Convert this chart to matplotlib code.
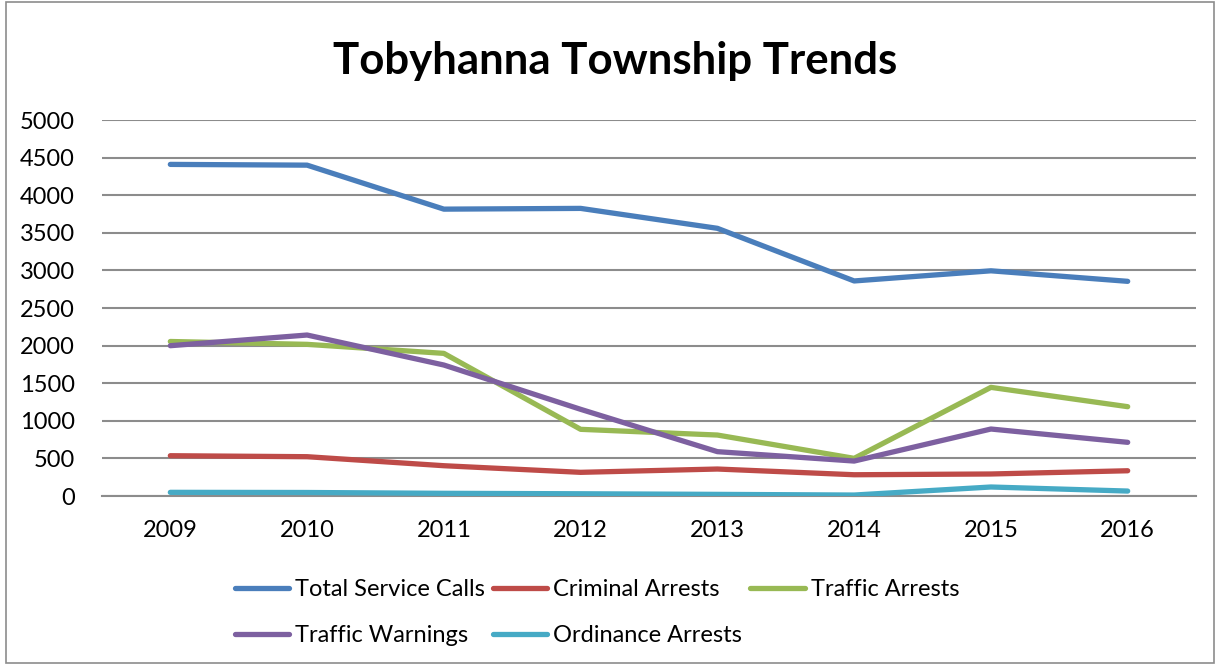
import matplotlib
matplotlib.use("Agg")
import matplotlib.pyplot as plt
from matplotlib.patches import Rectangle

years = ["2009", "2010", "2011", "2012", "2013", "2014", "2015", "2016"]
total_service_calls = [4410, 4400, 3815, 3825, 3560, 2860, 2995, 2855]
criminal_arrests = [536, 523, 403, 315, 359, 283, 293, 336]
traffic_arrests = [2055, 2017, 1897, 887, 811, 501, 1445, 1188]
traffic_warnings = [1999, 2141, 1742, 1153, 590, 465, 891, 714]
ordinance_arrests = [49, 47, 36, 30, 22, 13, 120, 66]
y_ticks = [0, 500, 1000, 1500, 2000, 2500, 3000, 3500, 4000, 4500, 5000]

plt.rcParams['font.family'] = ['Lato', 'DejaVu Sans']

fig = plt.figure(figsize=(12.18, 6.65), dpi=100)
ax = fig.add_axes([0.0837, 0.2541, 0.8983, 0.5654])

series = [
    ("Total Service Calls", total_service_calls, "#4A7EBB"),
    ("Criminal Arrests", criminal_arrests, "#BE4B48"),
    ("Traffic Arrests", traffic_arrests, "#98B954"),
    ("Traffic Warnings", traffic_warnings, "#7D60A0"),
    ("Ordinance Arrests", ordinance_arrests, "#46AAC5"),
]
x = list(range(len(years)))
handles = {}
for name, vals, col in series:
    h, = ax.plot(x, vals, color=col, lw=3.8, solid_capstyle='round',
                 solid_joinstyle='round', label=name, zorder=3)
    handles[name] = h

ax.set_xlim(-0.5, len(years) - 0.5)
ax.set_ylim(0, 5000)
ax.set_yticks(y_ticks)
ax.set_xticks(x)
ax.set_xticklabels(years)
ax.grid(axis='y', color='#8c8c8c', lw=1.5, zorder=1)
ax.set_axisbelow(True)
for s in ['top', 'right', 'left']:
    ax.spines[s].set_visible(False)
ax.spines['bottom'].set_color('#8c8c8c')
ax.spines['bottom'].set_linewidth(1.5)
ax.tick_params(axis='both', length=0, labelsize=17, colors='black')
ax.tick_params(axis='y', pad=19.5)
ax.tick_params(axis='x', pad=17)

fig.text(0.505, 0.908, "Tobyhanna Township Trends", ha='center', va='center',
         fontsize=31.5, fontweight='bold')

order = ["Total Service Calls", "Traffic Warnings", "Criminal Arrests",
         "Ordinance Arrests", "Traffic Arrests"]
leg = fig.legend([handles[n] for n in order], order, ncol=3, loc='center',
                 bbox_to_anchor=(0.49, 0.079), frameon=False, fontsize=17,
                 handlelength=2.3, handletextpad=0.25, columnspacing=0.35,
                 labelspacing=1.05)

fig.patches.append(Rectangle((0.005, 0.003), 0.992, 0.994, transform=fig.transFigure,
                             fill=False, edgecolor='#8c8c8c', lw=1.2))

fig.savefig("out.png", dpi=100)
